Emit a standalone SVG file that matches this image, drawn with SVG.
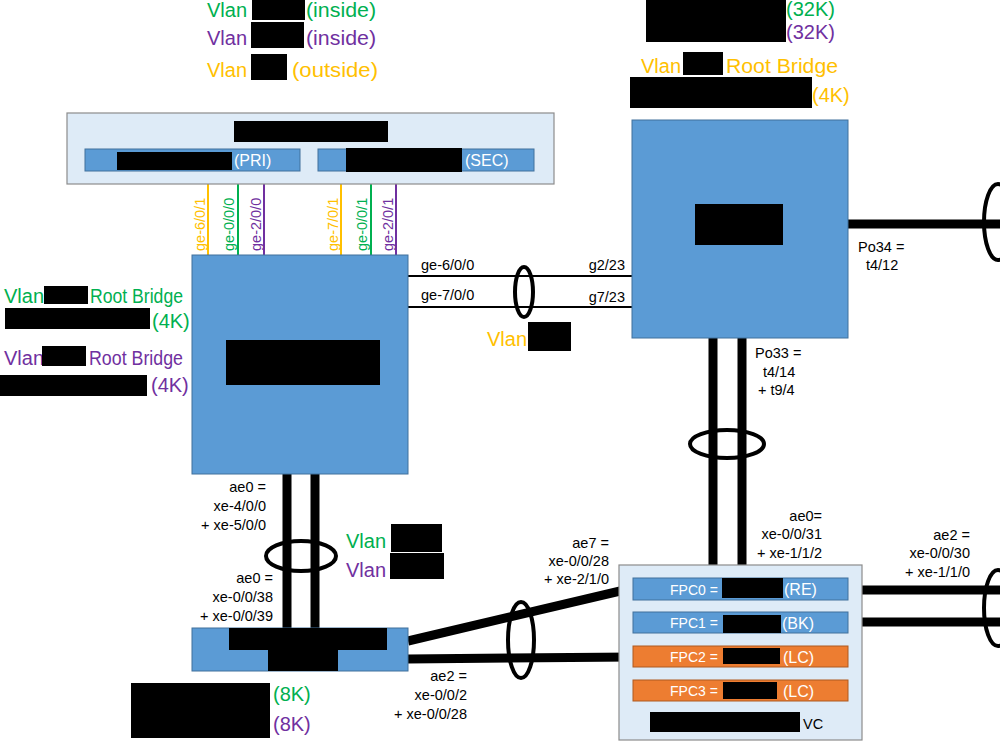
<svg xmlns="http://www.w3.org/2000/svg" width="1000" height="750" viewBox="0 0 1000 750">
<style>
text{font-family:"Liberation Sans",Arial,sans-serif}
.big{font-size:20px}
.sm{font-size:14.5px;fill:#000}
.fpc{font-size:14px;fill:#fff}
.par{font-size:16px;fill:#fff}
.g{fill:#00B050}.p{fill:#7030A0}.y{fill:#FFC000}.w{fill:#fff}
.red{fill:#000}
.dev{fill:#5B9BD5;stroke:#41719C;stroke-width:1}
.grp{fill:#DEEBF7;stroke:#8C8C8C;stroke-width:1.2}
.org{fill:#ED7D31;stroke:#AE5A21;stroke-width:1}
.thin{stroke:#000;stroke-width:2;fill:none}
.thick{stroke:#000;stroke-width:9;fill:none}
.ring{stroke:#000;stroke-width:4;fill:none}
.r{text-anchor:end}
</style>

<g id="legend">
<text class="big g" x="207" y="17">Vlan</text><rect class="red" x="252" y="0" width="53" height="20"/><text class="big g" x="306" y="17" textLength="70" lengthAdjust="spacingAndGlyphs">(inside)</text>
<text class="big p" x="207" y="45">Vlan</text><rect class="red" x="251" y="22" width="53" height="26"/><text class="big p" x="306" y="45" textLength="70" lengthAdjust="spacingAndGlyphs">(inside)</text>
<text class="big y" x="207" y="77">Vlan</text><rect class="red" x="251" y="54" width="36" height="26"/><text class="big y" x="292" y="77" textLength="86" lengthAdjust="spacingAndGlyphs">(outside)</text>
</g>

<g id="right-notes">
<rect class="red" x="646" y="0" width="140" height="42"/>
<text class="big g" x="786" y="16" font-size="19">(32K)</text>
<text class="big p" x="786" y="39" font-size="19">(32K)</text>
<text class="big y" x="641" y="73">Vlan</text><rect class="red" x="683" y="52" width="40" height="23"/><text class="big y" x="726" y="73" textLength="112" lengthAdjust="spacingAndGlyphs">Root Bridge</text>
<rect class="red" x="630" y="77" width="182" height="31"/><text class="big y" x="812" y="102">(4K)</text>
</g>

<g id="left-notes">
<text class="big g" x="4" y="303">Vlan</text><rect class="red" x="44" y="286" width="44" height="18"/><text class="big g" x="90" y="303" textLength="93" lengthAdjust="spacingAndGlyphs">Root Bridge</text>
<rect class="red" x="5" y="308" width="145" height="21"/><text class="big g" x="152" y="328">(4K)</text>
<text class="big p" x="4" y="365">Vlan</text><rect class="red" x="42" y="346" width="44" height="20"/><text class="big p" x="89" y="365" textLength="94" lengthAdjust="spacingAndGlyphs">Root Bridge</text>
<rect class="red" x="0" y="375" width="147" height="21"/><text class="big p" x="151" y="392">(4K)</text>
</g>

<g id="connectors">
<line x1="208" y1="171" x2="208" y2="255" stroke="#FFC000" stroke-width="2"/>
<line x1="238" y1="171" x2="238" y2="255" stroke="#00B050" stroke-width="2"/>
<line x1="264" y1="171" x2="264" y2="255" stroke="#7030A0" stroke-width="2"/>
<line x1="341" y1="171" x2="341" y2="255" stroke="#FFC000" stroke-width="2"/>
<line x1="371" y1="171" x2="371" y2="255" stroke="#00B050" stroke-width="2"/>
<line x1="396" y1="171" x2="396" y2="255" stroke="#7030A0" stroke-width="2"/>
<line class="thin" x1="408" y1="276" x2="632" y2="276"/>
<line class="thin" x1="408" y1="307" x2="632" y2="307"/>
<ellipse class="ring" cx="524" cy="292" rx="9" ry="25" stroke-width="3"/>
<line class="thick" x1="848" y1="224" x2="1000" y2="224" stroke-width="8"/>
<ellipse class="ring" cx="998" cy="222" rx="14" ry="38"/>
<line class="thick" x1="713" y1="338" x2="713" y2="578"/>
<line class="thick" x1="742" y1="338" x2="742" y2="612"/>
<ellipse class="ring" cx="727" cy="444" rx="37" ry="14"/>
<line class="thick" x1="287" y1="474" x2="287" y2="628"/>
<line class="thick" x1="315" y1="474" x2="315" y2="628"/>
<ellipse class="ring" cx="301" cy="556" rx="35" ry="15"/>
<line class="thick" x1="408" y1="641" x2="633" y2="588"/>
<line class="thick" x1="408" y1="659" x2="633" y2="657"/>
<ellipse class="ring" cx="521" cy="640" rx="13" ry="38"/>
<line class="thick" x1="848" y1="590" x2="1000" y2="590"/>
<line class="thick" x1="848" y1="622" x2="1000" y2="622"/>
<ellipse class="ring" cx="998" cy="608" rx="14" ry="38"/>
</g>

<g id="port-labels">
<text class="sm y" font-size="14" transform="translate(205,251) rotate(-90)">ge-6/0/1</text>
<text class="sm g" font-size="14" transform="translate(234,251) rotate(-90)">ge-0/0/0</text>
<text class="sm p" font-size="14" transform="translate(261,251) rotate(-90)">ge-2/0/0</text>
<text class="sm y" font-size="14" transform="translate(338,251) rotate(-90)">ge-7/0/1</text>
<text class="sm g" font-size="14" transform="translate(367,251) rotate(-90)">ge-0/0/1</text>
<text class="sm p" font-size="14" transform="translate(393,251) rotate(-90)">ge-2/0/1</text>
<text class="sm" x="421" y="270">ge-6/0/0</text>
<text class="sm" x="421" y="300">ge-7/0/0</text>
<text class="sm r" x="625" y="270">g2/23</text>
<text class="sm r" x="625" y="302">g7/23</text>
<text class="big y" x="487" y="346">Vlan</text><rect class="red" x="528" y="322" width="43" height="29"/>
<text class="sm" x="858" y="252">Po34 =</text>
<text class="sm" x="866" y="270">t4/12</text>
<text class="sm" x="755" y="358">Po33 =</text>
<text class="sm" x="763" y="377">t4/14</text>
<text class="sm" x="758" y="395">+ t9/4</text>
<text class="sm r" x="822" y="521">ae0=</text>
<text class="sm r" x="822" y="539">xe-0/0/31</text>
<text class="sm r" x="822" y="558">+ xe-1/1/2</text>
<text class="sm r" x="970" y="540">ae2 =</text>
<text class="sm r" x="970" y="558">xe-0/0/30</text>
<text class="sm r" x="970" y="577">+ xe-1/1/0</text>
<text class="sm r" x="266" y="492">ae0 =</text>
<text class="sm r" x="266" y="511">xe-4/0/0</text>
<text class="sm r" x="266" y="530">+ xe-5/0/0</text>
<text class="sm r" x="273" y="583">ae0 =</text>
<text class="sm r" x="273" y="602">xe-0/0/38</text>
<text class="sm r" x="273" y="621">+ xe-0/0/39</text>
<text class="big g" x="346" y="548">Vlan</text><rect class="red" x="391" y="524" width="51" height="28"/>
<text class="big p" x="346" y="577">Vlan</text><rect class="red" x="390" y="553" width="54" height="26"/>
<text class="sm r" x="609" y="548">ae7 =</text>
<text class="sm r" x="609" y="566">xe-0/0/28</text>
<text class="sm r" x="609" y="584">+ xe-2/1/0</text>
<text class="sm r" x="467" y="681">ae2 =</text>
<text class="sm r" x="467" y="700">xe-0/0/2</text>
<text class="sm r" x="467" y="719">+ xe-0/0/28</text>
</g>

<g id="firewall">
<rect class="grp" x="67" y="113" width="487" height="71"/>
<rect class="red" x="234" y="121" width="154" height="21"/>
<rect class="dev" x="85" y="149" width="215" height="22"/>
<rect class="red" x="117" y="152" width="115" height="18"/>
<text class="par" x="234" y="166">(PRI)</text>
<rect class="dev" x="318" y="149" width="216" height="22"/>
<rect class="red" x="346" y="148" width="116" height="24"/>
<text class="par" x="465" y="166" font-size="15">(SEC)</text>
</g>

<g id="left-switch">
<rect class="dev" x="192" y="255" width="216" height="219"/>
<rect class="red" x="226" y="340" width="154" height="45"/>
</g>

<g id="right-switch">
<rect class="dev" x="632" y="120" width="216" height="218"/>
<rect class="red" x="695" y="204" width="88" height="41"/>
</g>

<g id="bottom-switch">
<rect class="dev" x="192" y="628" width="216" height="43"/>
<rect class="red" x="229" y="628" width="158" height="22"/>
<rect class="red" x="268" y="649" width="70" height="22"/>
<rect class="red" x="131" y="683" width="139" height="55"/>
<text class="big g" x="273" y="701">(8K)</text>
<text class="big p" x="273" y="731">(8K)</text>
</g>

<g id="vc">
<rect class="grp" x="619" y="565" width="243" height="175"/>
<rect class="dev" x="633" y="578" width="215" height="22"/>
<text class="fpc" x="670" y="595">FPC0 =</text><rect class="red" x="722" y="578" width="61" height="20"/><text class="par" x="784" y="595">(RE)</text>
<rect class="dev" x="633" y="612" width="215" height="21"/>
<text class="fpc" x="670" y="628">FPC1 =</text><rect class="red" x="723" y="615" width="58" height="18"/><text class="par" x="782" y="629">(BK)</text>
<rect class="org" x="633" y="646" width="215" height="21"/>
<text class="fpc" x="670" y="662">FPC2 =</text><rect class="red" x="723" y="648" width="57" height="16"/><text class="par" x="783" y="663">(LC)</text>
<rect class="org" x="633" y="680" width="215" height="21"/>
<text class="fpc" x="670" y="696">FPC3 =</text><rect class="red" x="723" y="682" width="54" height="17"/><text class="par" x="783" y="697">(LC)</text>
<rect class="red" x="650" y="712" width="150" height="20"/>
<text class="sm" x="803" y="729" font-size="16">VC</text>
</g>
</svg>
